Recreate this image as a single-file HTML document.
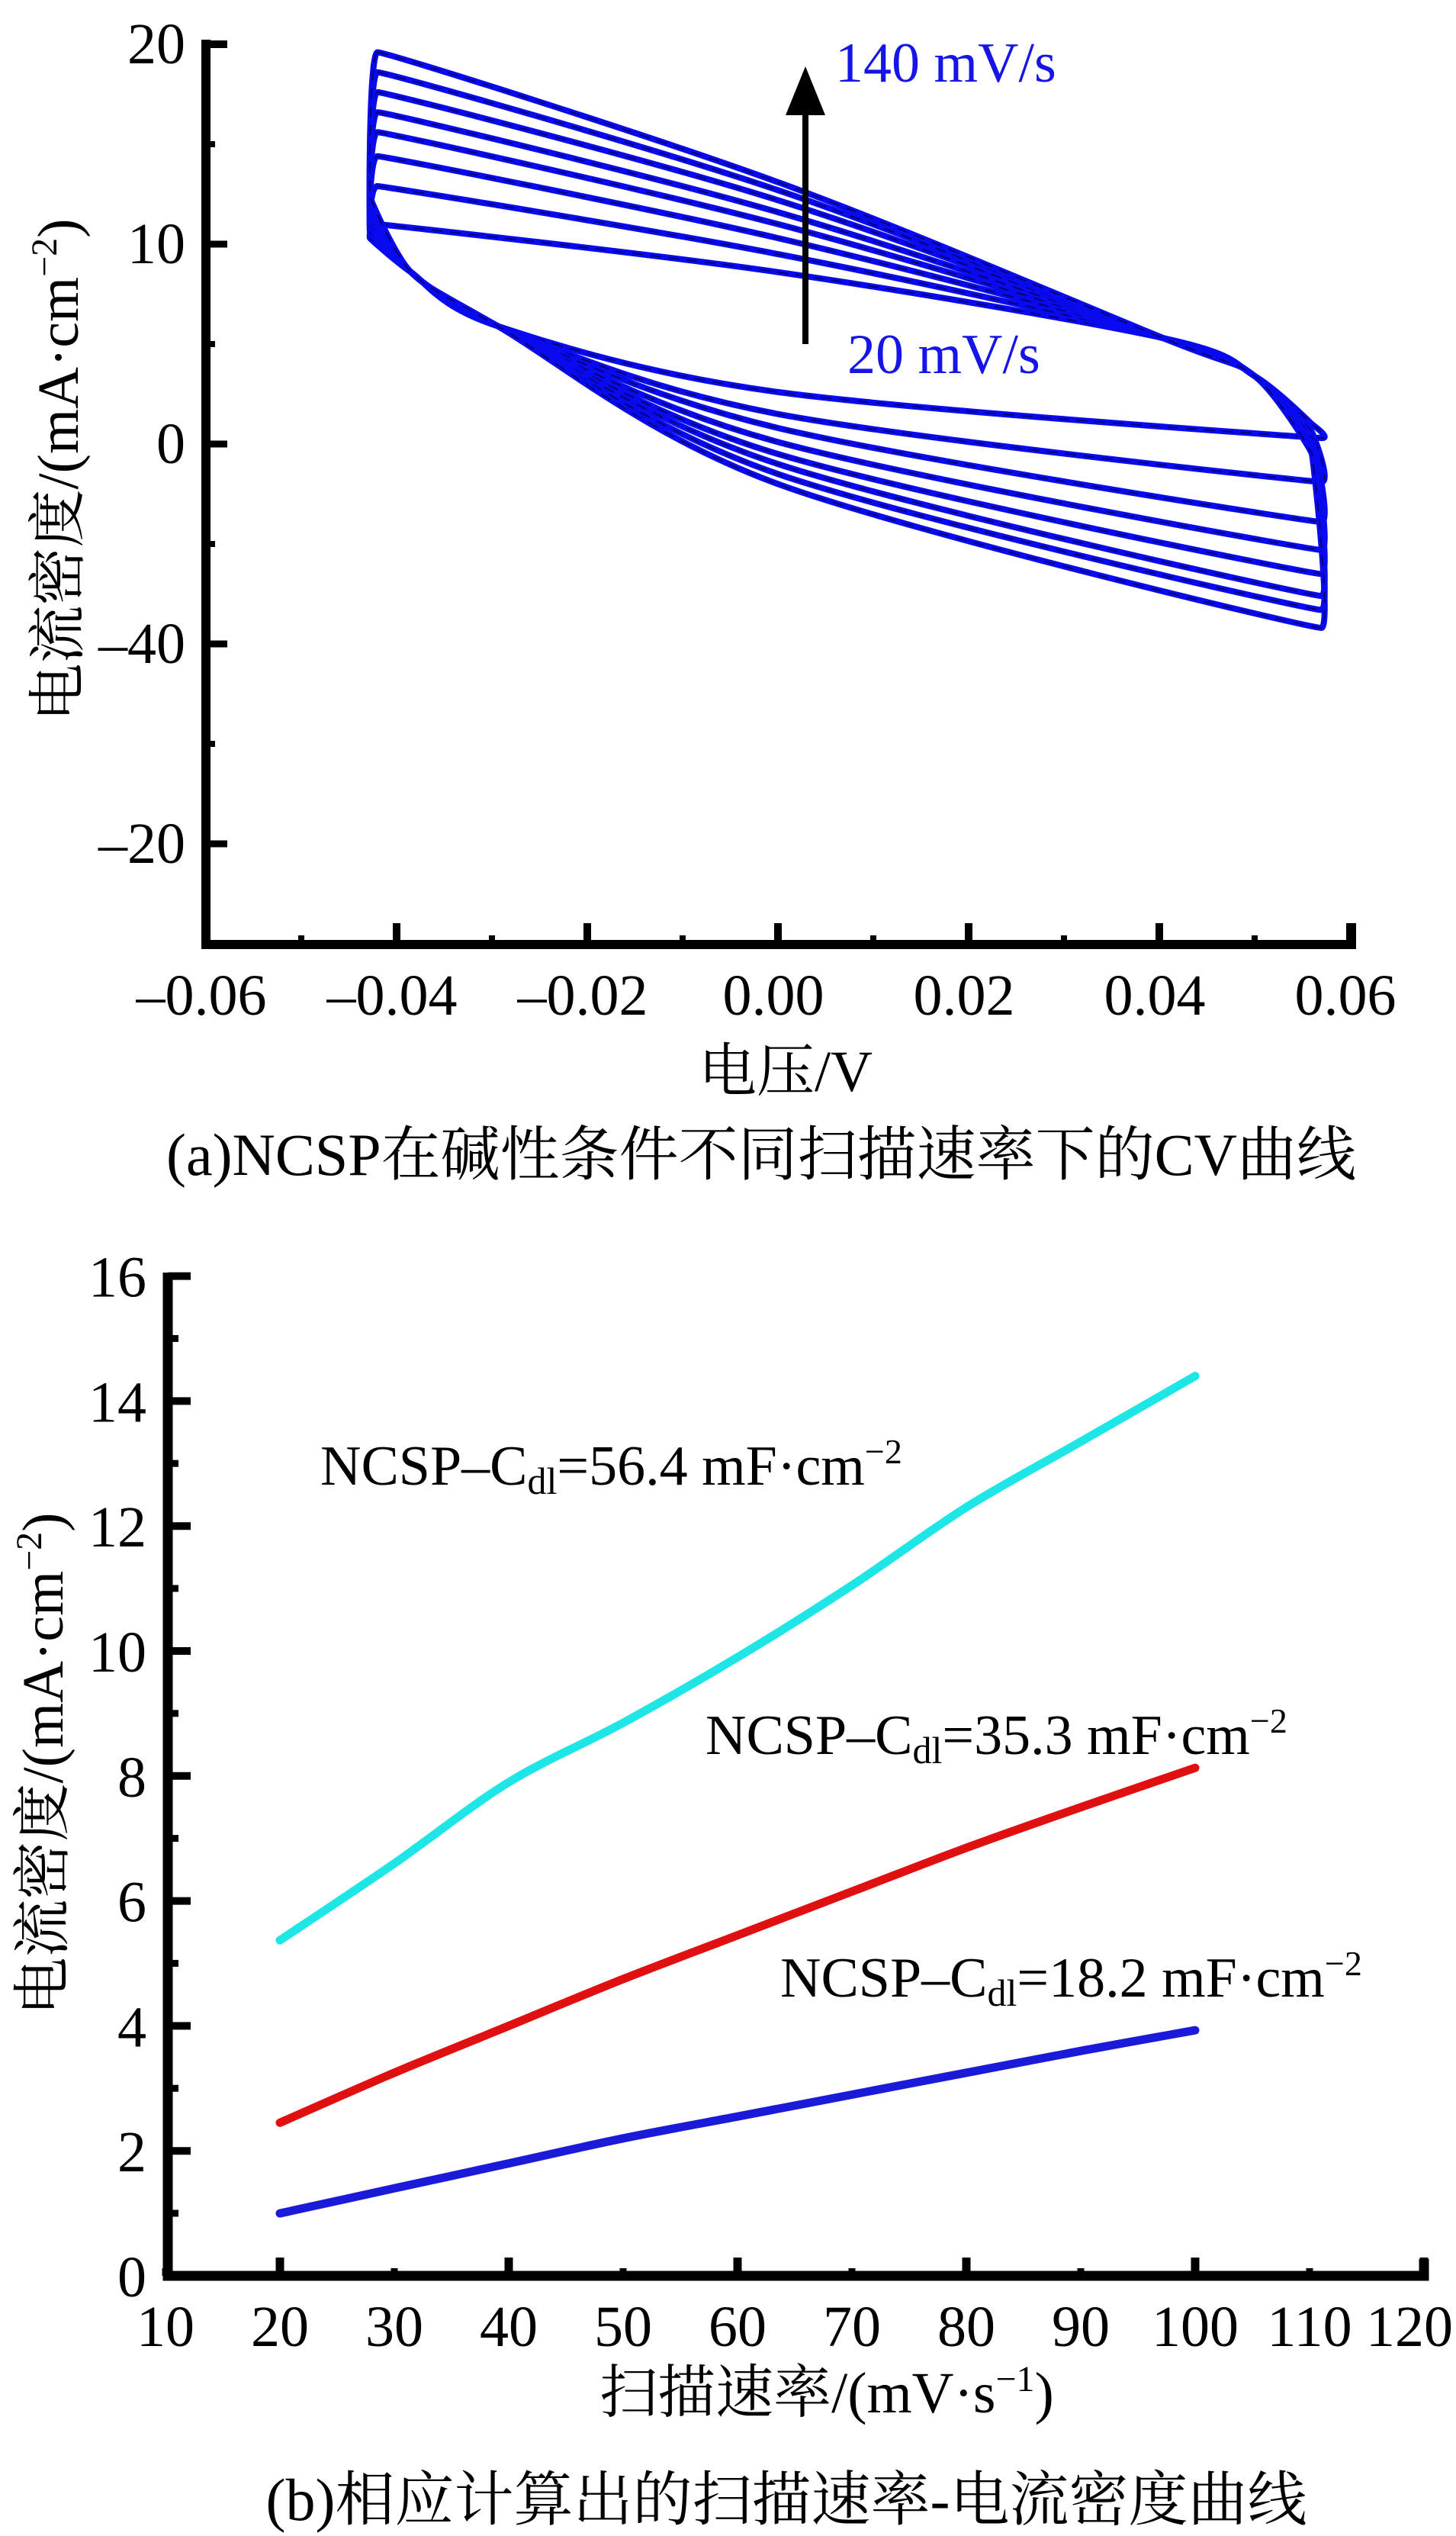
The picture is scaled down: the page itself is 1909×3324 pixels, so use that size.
<!DOCTYPE html>
<html><head><meta charset="utf-8">
<style>
html,body{margin:0;padding:0;background:#fff;}
svg{display:block;}
text{font-family:"Liberation Serif","Noto Serif CJK SC",serif;fill:#000;}
</style></head>
<body>
<svg id="fig" width="1909" height="3324" viewBox="0 0 1909 3324" xmlns="http://www.w3.org/2000/svg">
<g id="chartA"></g>
<g id="chartB"></g>
</svg>
<script>
// ---------- Chart A data (CV curves) ----------
const cvXTicks = [-0.06,-0.04,-0.02,0.00,0.02,0.04,0.06];
const cvXTickLabels = ["\u20130.06","\u20130.04","\u20130.02","0.00","0.02","0.04","0.06"];
const cvYTickValues = [20,10,0,-10,-20];
const cvYTickLabels = ["20","10","0","\u201340","\u201320"];
const cvTopCurrent = [11.0,12.9,14.4,15.6,16.6,17.6,18.6,19.6];
const cvUpperMidCurrent = [8.6,9.5,10.3,11.0,11.6,12.2,12.7,13.1];
const cvRightTopCurrent = [1.0,0.6,0.3,0.0,-0.2,-0.3,-0.4,-0.5];
const cvBottomCurrent = [0.3,-1.9,-3.9,-5.3,-6.5,-7.6,-8.3,-9.2];
const cvLowerMidCurrent = [2.6,1.5,0.8,0.1,-0.5,-1.0,-1.5,-2.0];
const cvLeftLowCurrent = [10.3,10.6,10.9,11.2,11.5,11.8,12.1,12.4];

// ---------- Chart B data ----------
const scanRates = [20,30,40,50,60,70,80,90,100];
const cyanSeries = [5.37,6.6,7.9,8.85,9.9,11.05,12.3,13.35,14.4];
const redSeries = [2.45,3.25,4.0,4.75,5.45,6.15,6.85,7.5,8.13];
const blueSeries = [1.0,1.4,1.8,2.2,2.55,2.9,3.25,3.6,3.93];
const bXTicks = [10,20,30,40,50,60,70,80,90,100,110,120];
const bYTicks = [0,2,4,6,8,10,12,14,16];

const NS="http://www.w3.org/2000/svg";
function mk(parent,tag,attrs,txt){const e=document.createElementNS(NS,tag);for(const k in attrs)e.setAttribute(k,attrs[k]);if(txt!==undefined)e.textContent=txt;parent.appendChild(e);return e;}

function spline(pts,closed,tens){
  const n=pts.length;let d="M"+pts[0][0].toFixed(1)+","+pts[0][1].toFixed(1);
  const idx=i=>closed?(i+n)%n:Math.max(0,Math.min(n-1,i));
  const g=i=>pts[idx(i)];
  const tt=i=>tens?tens[idx(i)]:0.16;
  const m=closed?n:n-1;
  for(let i=0;i<m;i++){
    const p0=g(i-1),p1=g(i),p2=g(i+1),p3=g(i+2);
    const t1=tt(i),t2=tt(i+1);
    const c1=[p1[0]+(p2[0]-p0[0])*t1,p1[1]+(p2[1]-p0[1])*t1];
    const c2=[p2[0]-(p3[0]-p1[0])*t2,p2[1]-(p3[1]-p1[1])*t2];
    d+="C"+c1[0].toFixed(1)+","+c1[1].toFixed(1)+" "+c2[0].toFixed(1)+","+c2[1].toFixed(1)+" "+p2[0].toFixed(1)+","+p2[1].toFixed(1);
  }
  return d+(closed?"Z":"");
}

// ===== Chart A =====
(function(){
  const g=document.getElementById('chartA');
  const xA=v=>520+(v+0.04)*12500;
  const yA=v=>582-v*26.2;
  const left=270,bottom=1238,right=1772,top=52;
  const cg=mk(g,'g',{});
  
  
  const tens=[0.02,0.16,0.16,0.14,0.02,0.02,0.16,0.16,0.12,0.02];
  for(let i=0;i<cvTopCurrent.length;i++){
    const P=[[-0.0420,cvTopCurrent[i]],[0.0,cvUpperMidCurrent[i]],[0.0404,5.3],[0.050,3.4],[0.0560,cvRightTopCurrent[i]],
             [0.0570,cvBottomCurrent[i]],[0.0,cvLowerMidCurrent[i]],[-0.0294,5.9],[-0.0385,8.6],[-0.0428,cvLeftLowCurrent[i]]];
    const pts=P.map(p=>[xA(p[0]),yA(p[1])]);
    const d=spline(pts,true,tens);
    const p=mk(cg,'path',{d:d,fill:'none',stroke:'#0a0af0','stroke-width':8,'stroke-linejoin':'round'});
    
    
    mk(cg,'path',{d:d,fill:'none',stroke:'#000040','stroke-width':2,'stroke-dasharray':'14 10','opacity':0.7});
  }
  const ax=mk(g,'path',{d:`M${left},${top} V${bottom} H${right} V${bottom-28}`,fill:'none',stroke:'#000','stroke-width':12});
  
  
  mk(g,'line',{x1:left,y1:top+6,x2:left+28,y2:top+6,stroke:'#000','stroke-width':10});
  cvYTickValues.forEach((v,i)=>{
    const y=yA(v);
    mk(g,'line',{x1:left,y1:y,x2:left+28,y2:y,stroke:'#000','stroke-width':9});
    mk(g,'line',{x1:left,y1:y+131,x2:left+12,y2:y+131,stroke:'#000','stroke-width':8});
    const t=mk(g,'text',{x:243,y:y+25,'text-anchor':'end','font-size':76},cvYTickLabels[i]);
    
    
  });
  for(let k=-6;k<=6;k++){
    const x=xA(k/100);
    if(k%2===0){mk(g,'line',{x1:x,y1:bottom,x2:x,y2:bottom-28,stroke:'#000','stroke-width':10});}
    else mk(g,'line',{x1:x,y1:bottom,x2:x,y2:bottom-12,stroke:'#000','stroke-width':8});
  }
  cvXTicks.forEach((v,i)=>{
    const t=mk(g,'text',{x:xA(v)-6,y:1330,'text-anchor':'middle','font-size':76},cvXTickLabels[i]);
    
    
  });
  let t=mk(g,'text',{x:1030,y:1430,'text-anchor':'middle','font-size':76},'电压/V');
  
  
  t=mk(g,'text',{x:0,y:0,'text-anchor':'middle','font-size':76,transform:'translate(102,616) rotate(-90)'});
  
  
  t.innerHTML='电流密度/(mA·cm<tspan dy="-28" font-size="48">\u22122</tspan><tspan dy="28">)</tspan>';
  mk(g,'line',{x1:1056,y1:451,x2:1056,y2:140,stroke:'#000','stroke-width':8});
  const ah=mk(g,'polygon',{points:'1056,87 1030,151 1082,151',fill:'#000'});
  
  
  t=mk(g,'text',{x:1095,y:107,'font-size':74,style:'fill:#1515e8'},'140 mV/s');
  
  
  t=mk(g,'text',{x:1111,y:489,'font-size':74,style:'fill:#1515e8'},'20 mV/s');
  
  
  t=mk(g,'text',{x:998,y:1540,'text-anchor':'middle','font-size':78},'(a)NCSP在碱性条件不同扫描速率下的CV曲线');
  
  
})();

// ===== Chart B =====
(function(){
  const g=document.getElementById('chartB');
  const xB=v=>217+(v-10)*15;
  const yB=v=>2983-v*81.9;
  const left=220,bottom=2983,right=1867,top=1668;
  const series=[[cyanSeries,'#1ee6e6','cyan-line'],[redSeries,'#e01010','red-line'],[blueSeries,'#1a1ad8','blue-line']];
  series.forEach(s=>{
    const pts=scanRates.map((r,i)=>[xB(r),yB(s[0][i])]);
    const p=mk(g,'path',{d:spline(pts,false),fill:'none',stroke:s[1],'stroke-width':11,'stroke-linecap':'round'});
    
    
  });
  const ax=mk(g,'path',{d:`M${left},${top} V${bottom} H${right} V${bottom-22}`,fill:'none',stroke:'#000','stroke-width':13});
  
  
  bYTicks.forEach(v=>{
    const y=yB(v);
    mk(g,'line',{x1:left,y1:y,x2:left+30,y2:y,stroke:'#000','stroke-width':10});
    if(v<16) mk(g,'line',{x1:left,y1:y-82,x2:left+14,y2:y-82,stroke:'#000','stroke-width':9});
    const t=mk(g,'text',{x:192,y:y+27,'text-anchor':'end','font-size':76},String(v));
    
    
  });
  bXTicks.forEach(v=>{
    const x=xB(v);
    if(v%20===0) mk(g,'line',{x1:x,y1:bottom,x2:x,y2:bottom-24,stroke:'#000','stroke-width':11});
    else mk(g,'line',{x1:x,y1:bottom,x2:x,y2:bottom-10,stroke:'#000','stroke-width':9});
    const lx=Math.min(x,1848);
    const t=mk(g,'text',{x:lx,y:3075,'text-anchor':'middle','font-size':76},String(v));
    
    
  });
  let t=mk(g,'text',{x:1084,y:3162,'text-anchor':'middle','font-size':76});
  
  
  t.innerHTML='扫描速率/(mV·s<tspan dy="-28" font-size="48">\u22121</tspan><tspan dy="28">)</tspan>';
  t=mk(g,'text',{x:0,y:0,'text-anchor':'middle','font-size':76,transform:'translate(82,2312) rotate(-90)'});
  
  
  t.innerHTML='电流密度/(mA·cm<tspan dy="-28" font-size="48">\u22122</tspan><tspan dy="28">)</tspan>';
  const labels=[[420,1946,'56.4','label-cdl-56'],[925,2299,'35.3','label-cdl-35'],[1023,2617,'18.2','label-cdl-18']];
  labels.forEach(l=>{
    const e=mk(g,'text',{x:l[0],y:l[1],'font-size':74});
    
    
    e.innerHTML='NCSP\u2013C<tspan dy="12" font-size="50">dl</tspan><tspan dy="-12">='+l[2]+' mF·cm</tspan><tspan dy="-28" font-size="46">\u22122</tspan>';
  });
  t=mk(g,'text',{x:1031,y:3303,'text-anchor':'middle','font-size':78},'(b)相应计算出的扫描速率-电流密度曲线');
  
  
})();
</script>
</body></html>
